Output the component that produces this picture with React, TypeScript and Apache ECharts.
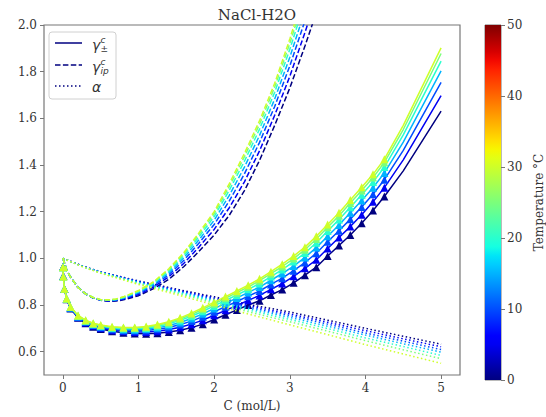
import React, { useEffect, useRef } from "react";
import * as echarts from "echarts";

// ---------------- data ----------------
const TEMPERATURES = [0, 5, 10, 15, 20, 25, 30];
const T_MIN = 0;
const T_MAX = 50;
const X_TICKS = [0, 1, 2, 3, 4, 5];
const Y_TICKS = [0.6, 0.8, 1.0, 1.2, 1.4, 1.6, 1.8, 2.0];
const MARKER_MAX_C = 4.25;

// mean activity coefficient (solid, triangles)
const C_GAMMA = [0.001, 0.005, 0.02, 0.05, 0.1, 0.2, 0.3, 0.4, 0.5, 0.65, 0.8, 0.95, 1.1, 1.25, 1.4, 1.55, 1.7, 1.85, 2.0, 2.15, 2.3, 2.45, 2.6, 2.75, 2.9, 3.05, 3.2, 3.35, 3.5, 3.65, 3.8, 3.95, 4.1, 4.25, 4.5, 5.0];
const GPM_T0 = [0.963, 0.925, 0.870, 0.825, 0.785, 0.745, 0.722, 0.707, 0.697, 0.687, 0.681, 0.678, 0.677, 0.679, 0.684, 0.692, 0.703, 0.718, 0.738, 0.758, 0.779, 0.800, 0.818, 0.843, 0.866, 0.895, 0.928, 0.962, 1.010, 1.055, 1.100, 1.150, 1.205, 1.265, 1.375, 1.631];
const GPM_T5 = [0.963, 0.924, 0.870, 0.826, 0.787, 0.747, 0.725, 0.711, 0.701, 0.692, 0.687, 0.684, 0.684, 0.688, 0.695, 0.705, 0.718, 0.735, 0.756, 0.777, 0.798, 0.820, 0.841, 0.867, 0.892, 0.923, 0.957, 0.994, 1.042, 1.089, 1.136, 1.187, 1.242, 1.303, 1.422, 1.697];
const GPM_T10 = [0.963, 0.924, 0.870, 0.826, 0.788, 0.750, 0.728, 0.714, 0.705, 0.696, 0.691, 0.690, 0.691, 0.696, 0.704, 0.716, 0.731, 0.750, 0.771, 0.793, 0.815, 0.838, 0.860, 0.888, 0.915, 0.947, 0.982, 1.022, 1.071, 1.118, 1.168, 1.220, 1.275, 1.337, 1.463, 1.754];
const GPM_T15 = [0.962, 0.923, 0.870, 0.827, 0.789, 0.751, 0.730, 0.716, 0.708, 0.700, 0.695, 0.694, 0.697, 0.702, 0.712, 0.725, 0.742, 0.762, 0.785, 0.807, 0.830, 0.854, 0.877, 0.906, 0.935, 0.967, 1.004, 1.046, 1.095, 1.143, 1.195, 1.248, 1.303, 1.366, 1.498, 1.803];
const GPM_T20 = [0.962, 0.923, 0.870, 0.827, 0.791, 0.753, 0.732, 0.719, 0.710, 0.703, 0.699, 0.699, 0.701, 0.708, 0.719, 0.734, 0.752, 0.773, 0.796, 0.820, 0.843, 0.867, 0.892, 0.922, 0.952, 0.986, 1.023, 1.067, 1.117, 1.166, 1.219, 1.272, 1.327, 1.391, 1.529, 1.845];
const GPM_T25 = [0.962, 0.922, 0.870, 0.828, 0.791, 0.754, 0.734, 0.721, 0.712, 0.705, 0.702, 0.702, 0.705, 0.713, 0.724, 0.740, 0.759, 0.782, 0.805, 0.829, 0.853, 0.877, 0.904, 0.934, 0.965, 0.999, 1.037, 1.083, 1.133, 1.182, 1.237, 1.291, 1.346, 1.411, 1.552, 1.878];
const GPM_T30 = [0.962, 0.922, 0.870, 0.828, 0.792, 0.755, 0.735, 0.722, 0.714, 0.707, 0.704, 0.704, 0.708, 0.716, 0.728, 0.745, 0.765, 0.788, 0.812, 0.836, 0.860, 0.885, 0.912, 0.943, 0.975, 1.010, 1.048, 1.095, 1.145, 1.195, 1.250, 1.305, 1.360, 1.425, 1.570, 1.902];

// ion-pair activity coefficient (dashed)
const C_IP = [0, 0.05, 0.1, 0.2, 0.3, 0.4, 0.5, 0.6, 0.7, 0.8, 1.0, 1.2, 1.4, 1.6, 1.8, 2.0, 2.2, 2.4, 2.6, 2.8, 3.0, 3.2, 3.4, 3.6];
const GIP_T0 = [1.0, 0.95, 0.92, 0.875, 0.848, 0.830, 0.820, 0.816, 0.817, 0.822, 0.840, 0.870, 0.910, 0.965, 1.030, 1.100, 1.185, 1.290, 1.420, 1.570, 1.730, 1.910, 2.100, 2.300];
const GIP_T5 = [1.0, 0.95, 0.92, 0.875, 0.848, 0.830, 0.821, 0.817, 0.819, 0.825, 0.845, 0.877, 0.921, 0.979, 1.049, 1.124, 1.217, 1.328, 1.461, 1.613, 1.780, 1.968, 2.167, 2.377];
const GIP_T10 = [1.0, 0.95, 0.92, 0.875, 0.848, 0.831, 0.821, 0.819, 0.821, 0.828, 0.850, 0.884, 0.930, 0.992, 1.066, 1.145, 1.246, 1.362, 1.497, 1.651, 1.825, 2.018, 2.226, 2.444];
const GIP_T15 = [1.0, 0.95, 0.92, 0.875, 0.848, 0.831, 0.822, 0.820, 0.823, 0.830, 0.854, 0.889, 0.938, 1.003, 1.080, 1.163, 1.270, 1.391, 1.527, 1.683, 1.862, 2.061, 2.276, 2.502];
const GIP_T20 = [1.0, 0.95, 0.92, 0.875, 0.848, 0.832, 0.822, 0.821, 0.824, 0.832, 0.857, 0.894, 0.946, 1.012, 1.093, 1.179, 1.292, 1.416, 1.554, 1.712, 1.896, 2.100, 2.321, 2.553];
const GIP_T25 = [1.0, 0.95, 0.92, 0.875, 0.848, 0.832, 0.823, 0.821, 0.825, 0.834, 0.860, 0.897, 0.951, 1.020, 1.103, 1.191, 1.308, 1.436, 1.575, 1.734, 1.921, 2.128, 2.355, 2.591];
const GIP_T30 = [1.0, 0.95, 0.92, 0.875, 0.848, 0.832, 0.823, 0.822, 0.826, 0.835, 0.862, 0.900, 0.955, 1.025, 1.110, 1.200, 1.320, 1.450, 1.590, 1.750, 1.940, 2.150, 2.380, 2.620];

// degree of dissociation (dotted)
const C_ALPHA = [0, 0.25, 0.5, 1, 1.5, 2, 2.5, 3, 3.5, 4, 4.5, 5];
const ALPHA_T0 = [1.0, 0.968, 0.942, 0.903, 0.868, 0.835, 0.800, 0.770, 0.735, 0.700, 0.666, 0.632];
const ALPHA_T5 = [1.0, 0.968, 0.941, 0.901, 0.865, 0.830, 0.794, 0.762, 0.726, 0.690, 0.655, 0.621];
const ALPHA_T10 = [1.0, 0.967, 0.940, 0.899, 0.862, 0.825, 0.788, 0.755, 0.718, 0.680, 0.645, 0.609];
const ALPHA_T15 = [1.0, 0.967, 0.940, 0.897, 0.858, 0.820, 0.782, 0.747, 0.709, 0.671, 0.634, 0.598];
const ALPHA_T20 = [1.0, 0.966, 0.939, 0.894, 0.855, 0.815, 0.775, 0.738, 0.699, 0.659, 0.622, 0.584];
const ALPHA_T25 = [1.0, 0.966, 0.937, 0.892, 0.851, 0.808, 0.767, 0.728, 0.688, 0.647, 0.608, 0.570];
const ALPHA_T30 = [1.0, 0.965, 0.936, 0.888, 0.845, 0.800, 0.757, 0.715, 0.673, 0.630, 0.590, 0.550];

const GPM_BY_T = [GPM_T0, GPM_T5, GPM_T10, GPM_T15, GPM_T20, GPM_T25, GPM_T30];
const GIP_BY_T = [GIP_T0, GIP_T5, GIP_T10, GIP_T15, GIP_T20, GIP_T25, GIP_T30];
const ALPHA_BY_T = [ALPHA_T0, ALPHA_T5, ALPHA_T10, ALPHA_T15, ALPHA_T20, ALPHA_T25, ALPHA_T30];

// ---------------- jet colormap ----------------
const JET_R = [[0, 0], [0.35, 0], [0.66, 1], [0.89, 1], [1, 0.5]];
const JET_G = [[0, 0], [0.125, 0], [0.375, 1], [0.64, 1], [0.91, 0], [1, 0]];
const JET_B = [[0, 0.5], [0.11, 1], [0.34, 1], [0.65, 0], [1, 0]];
function segInterp(t: number, pts: number[][]) {
  for (let i = 0; i < pts.length - 1; i++) {
    const [x0, y0] = pts[i];
    const [x1, y1] = pts[i + 1];
    if (t >= x0 && t <= x1) return y0 + ((t - x0) / (x1 - x0)) * (y1 - y0);
  }
  return pts[pts.length - 1][1];
}
function jet(t: number) {
  const r = Math.round(255 * segInterp(t, JET_R));
  const g = Math.round(255 * segInterp(t, JET_G));
  const b = Math.round(255 * segInterp(t, JET_B));
  return `rgb(${r},${g},${b})`;
}

const SERIF = "'DejaVu Serif', serif";
const SANS = "'DejaVu Sans', sans-serif";
const TEXT_COLOR = "#333";
const SPINE = "#777";

export default function App() {
  const ref = useRef<HTMLDivElement>(null);
  useEffect(() => {
    document.body.style.margin = "0";
    const chart = echarts.init(ref.current!, null, { renderer: "svg" });
    const series: any[] = [];
    TEMPERATURES.forEach((T, i) => {
      const color = jet((T - T_MIN) / (T_MAX - T_MIN));
      series.push({
        type: "line",
        name: "gpm" + T,
        xAxisIndex: 0,
        yAxisIndex: 0,
        data: C_GAMMA.map((c, j) => ({
          value: [c, GPM_BY_T[i][j]],
          symbol: c <= MARKER_MAX_C ? "triangle" : "none",
        })),
        symbol: "triangle",
        symbolSize: 8,
        showAllSymbol: true,
        lineStyle: { width: 1.5, color },
        itemStyle: { color },
        z: 3 + i,
      });
      series.push({
        type: "line",
        name: "gip" + T,
        xAxisIndex: 0,
        yAxisIndex: 0,
        data: C_IP.map((c, j) => [c, GIP_BY_T[i][j]]),
        showSymbol: false,
        lineStyle: { width: 1.5, color, type: [5.5, 2.4] },
        itemStyle: { color },
        z: 3 + i,
      });
      series.push({
        type: "line",
        name: "alpha" + T,
        xAxisIndex: 0,
        yAxisIndex: 0,
        data: C_ALPHA.map((c, j) => [c, ALPHA_BY_T[i][j]]),
        showSymbol: false,
        lineStyle: { width: 1.5, color, type: [1.5, 2.5] },
        itemStyle: { color },
        z: 3 + i,
      });
    });

    const stops = [];
    for (let k = 0; k <= 40; k++) stops.push({ offset: k / 40, color: jet(k / 40) });
    series.push({
      type: "bar",
      xAxisIndex: 1,
      yAxisIndex: 1,
      data: [T_MAX],
      barWidth: "100%",
      silent: true,
      itemStyle: { color: new echarts.graphic.LinearGradient(0, 1, 0, 0, stops) },
    });

    const navy = jet(0);
    const legendX = 55;
    const legendX2 = 82;
    const textX = 92;
    chart.setOption({
      animation: false,
      title: {
        text: "NaCl-H2O",
        left: 252,
        textAlign: "center",
        top: 2,
        textStyle: { fontFamily: SERIF, fontSize: 15, fontWeight: "normal", color: TEXT_COLOR },
      },
      grid: [
        { left: 44, right: 86, top: 25, bottom: 37, show: true, borderColor: SPINE, borderWidth: 1.2, backgroundColor: "transparent" },
        { left: 485, width: 18, top: 25, bottom: 37, show: true, borderColor: SPINE, borderWidth: 1, backgroundColor: "transparent" },
      ],
      xAxis: [
        {
          type: "value",
          gridIndex: 0,
          min: -0.25,
          max: 5.25,
          axisLine: { show: false, onZero: false },
          splitLine: { show: false },
          axisTick: { show: true, length: 4, customValues: X_TICKS, lineStyle: { color: SPINE } },
          axisLabel: { customValues: X_TICKS, color: TEXT_COLOR, fontFamily: SERIF, fontSize: 12, margin: 7 },
          name: "C (mol/L)",
          nameLocation: "middle",
          nameGap: 25,
          nameTextStyle: { fontFamily: SERIF, fontSize: 12, color: TEXT_COLOR },
        },
        { type: "category", gridIndex: 1, data: ["T"], show: false, boundaryGap: true },
      ],
      yAxis: [
        {
          type: "value",
          gridIndex: 0,
          min: 0.5,
          max: 2.0,
          axisLine: { show: false, onZero: false },
          splitLine: { show: false },
          axisTick: { show: true, length: 4, customValues: Y_TICKS, lineStyle: { color: SPINE } },
          axisLabel: {
            customValues: Y_TICKS,
            formatter: (v: number) => v.toFixed(1),
            color: TEXT_COLOR,
            fontFamily: SERIF,
            fontSize: 12,
            margin: 7,
          },
        },
        {
          type: "value",
          gridIndex: 1,
          min: T_MIN,
          max: T_MAX,
          interval: 10,
          position: "right",
          axisLine: { show: false, onZero: false },
          splitLine: { show: false },
          axisTick: { show: true, length: 4, lineStyle: { color: SPINE } },
          axisLabel: { color: TEXT_COLOR, fontFamily: SERIF, fontSize: 12, margin: 6 },
          name: "Temperature °C",
          nameLocation: "middle",
          nameRotate: 90,
          nameGap: 32,
          nameTextStyle: { fontFamily: SERIF, fontSize: 12, color: TEXT_COLOR },
        },
      ],
      series,
      graphic: [
        {
          type: "rect",
          shape: { x: 49, y: 32, width: 67, height: 67, r: 3 },
          style: { fill: "rgba(255,255,255,0.8)", stroke: "#d0d0d0", lineWidth: 1 },
          z: 100,
        },
        { type: "line", shape: { x1: legendX, y1: 43, x2: legendX2, y2: 43 }, style: { stroke: navy, lineWidth: 1.5 }, z: 101 },
        { type: "line", shape: { x1: legendX, y1: 65, x2: legendX2, y2: 65 }, style: { stroke: navy, lineWidth: 1.5, lineDash: [5.5, 2.4] }, z: 101 },
        { type: "line", shape: { x1: legendX, y1: 86, x2: legendX2, y2: 86 }, style: { stroke: navy, lineWidth: 1.5, lineDash: [1.5, 2.5] }, z: 101 },
        { type: "text", x: textX, y: 45, style: { text: "γ", font: `italic 14px ${SANS}`, fill: TEXT_COLOR, verticalAlign: "middle" }, z: 101 },
        { type: "text", x: textX + 8.5, y: 40, style: { text: "c", font: `italic 9px ${SANS}`, fill: TEXT_COLOR, verticalAlign: "middle" }, z: 101 },
        { type: "text", x: textX + 8.5, y: 48.5, style: { text: "±", font: `9px ${SANS}`, fill: TEXT_COLOR, verticalAlign: "middle" }, z: 101 },
        { type: "text", x: textX, y: 67, style: { text: "γ", font: `italic 14px ${SANS}`, fill: TEXT_COLOR, verticalAlign: "middle" }, z: 101 },
        { type: "text", x: textX + 8.5, y: 62, style: { text: "c", font: `italic 9px ${SANS}`, fill: TEXT_COLOR, verticalAlign: "middle" }, z: 101 },
        { type: "text", x: textX + 8.5, y: 71, style: { text: "ip", font: `italic 9px ${SANS}`, fill: TEXT_COLOR, verticalAlign: "middle" }, z: 101 },
        { type: "text", x: textX, y: 86.5, style: { text: "α", font: `italic 14px ${SANS}`, fill: TEXT_COLOR, verticalAlign: "middle" }, z: 101 },
      ],
    });
    return () => chart.dispose();
  }, []);
  return <div ref={ref} style={{ width: 546, height: 417 }} />;
}
